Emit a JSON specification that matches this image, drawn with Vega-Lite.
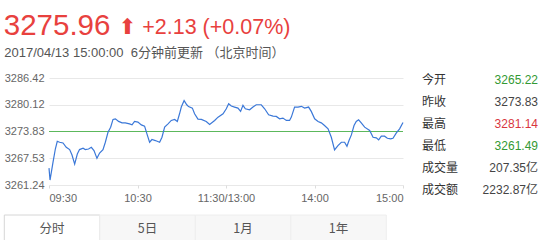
{
  "$schema": "https://vega.github.io/schema/vega-lite/v6.json",
  "padding": {"left": 3, "top": 11, "right": 0, "bottom": 0},
  "background": "white",
  "title": {"text": "3275.96", "fontSize": 29.5, "color": "#e8413e", "font": "Liberation Sans", "fontWeight": "normal", "anchor": "start", "offset": -25, "frame": "bounds"},
  "config": {"view": {"stroke": null}, "font": "Liberation Sans, Noto Sans CJK SC"},
  "spacing": 11,
  "vconcat": [
    {
      "title": {"text": "⬆ +2.13 (+0.07%)", "fontSize": 21.5, "color": "#e8413e", "font": "Liberation Sans, DejaVu Sans", "fontWeight": "normal", "anchor": "start", "dx": 114, "offset": 9, "frame": "bounds"},
      "spacing": 16,
      "hconcat": [
        {
          "title": {"text": "2017/04/13 15:00:00\u00a0\u00a06分钟前更新 （北京时间）", "fontSize": 13, "color": "#555555", "font": "Liberation Sans, Noto Sans CJK SC", "fontWeight": "normal", "anchor": "start", "offset": 12, "frame": "bounds"},
          "width": 354,
          "height": 107,
          "layer": [
            {
              "data": {"values": [{"prevClose": 3273.83}]},
              "mark": {"type": "rule", "color": "#5cb85c", "strokeWidth": 1},
              "encoding": {"y": {"field": "prevClose", "type": "quantitative", "title": null}}
            },
            {
              "data": {"values": [
                {"t": 0, "v": 3265.22}, {"t": 0.7, "v": 3262.4}, {"t": 2.7, "v": 3266.56}, {"t": 4.3, "v": 3269.71},
                {"t": 5.6, "v": 3271.53}, {"t": 7.2, "v": 3271.30}, {"t": 9.5, "v": 3271.13}, {"t": 11.7, "v": 3270.11},
                {"t": 14.0, "v": 3269.57}, {"t": 15.6, "v": 3268.29}, {"t": 17.4, "v": 3266.16}, {"t": 19.2, "v": 3268.53},
                {"t": 20.7, "v": 3269.57}, {"t": 23.1, "v": 3269.88}, {"t": 24.6, "v": 3269.57}, {"t": 26.8, "v": 3269.71},
                {"t": 28.7, "v": 3270.11}, {"t": 30.5, "v": 3269.33}, {"t": 32.5, "v": 3267.51}, {"t": 34.3, "v": 3268.77},
                {"t": 36.6, "v": 3269.57}, {"t": 38.2, "v": 3271.30}, {"t": 40.0, "v": 3273.66}, {"t": 41.8, "v": 3274.85},
                {"t": 43.4, "v": 3276.67}, {"t": 45.0, "v": 3276.81}, {"t": 47.2, "v": 3276.20}, {"t": 49.5, "v": 3275.87},
                {"t": 51.7, "v": 3275.87}, {"t": 54.6, "v": 3275.63}, {"t": 56.3, "v": 3275.39}, {"t": 58.0, "v": 3276.20},
                {"t": 60.3, "v": 3276.03}, {"t": 62.6, "v": 3275.39}, {"t": 64.8, "v": 3275.08}, {"t": 66.4, "v": 3273.26},
                {"t": 68.2, "v": 3271.30}, {"t": 69.8, "v": 3271.94}, {"t": 72.1, "v": 3271.70}, {"t": 75.0, "v": 3271.30},
                {"t": 76.6, "v": 3272.48}, {"t": 78.4, "v": 3274.85}, {"t": 80.7, "v": 3275.63}, {"t": 82.9, "v": 3276.43},
                {"t": 85.2, "v": 3276.67}, {"t": 87.0, "v": 3276.20}, {"t": 88.5, "v": 3278.00}, {"t": 89.7, "v": 3279.58},
                {"t": 91.6, "v": 3281.10}, {"t": 93.4, "v": 3280.12}, {"t": 94.6, "v": 3279.70}, {"t": 97.2, "v": 3279.34},
                {"t": 98.7, "v": 3278.00}, {"t": 101.0, "v": 3276.74}, {"t": 103.3, "v": 3276.67}, {"t": 106.6, "v": 3276.20},
                {"t": 108.9, "v": 3275.49}, {"t": 112.3, "v": 3276.43}, {"t": 114.6, "v": 3277.21}, {"t": 118.0, "v": 3278.00},
                {"t": 120.2, "v": 3279.18}, {"t": 121.8, "v": 3280.36}, {"t": 123.6, "v": 3279.82}, {"t": 125.8, "v": 3279.58},
                {"t": 128.1, "v": 3279.34}, {"t": 129.9, "v": 3278.56}, {"t": 131.5, "v": 3279.98}, {"t": 133.1, "v": 3279.18},
                {"t": 136.0, "v": 3278.94}, {"t": 138.3, "v": 3279.58}, {"t": 140.5, "v": 3280.12}, {"t": 143.9, "v": 3280.12},
                {"t": 146.2, "v": 3279.18}, {"t": 148.9, "v": 3277.76}, {"t": 151.9, "v": 3277.45}, {"t": 154.1, "v": 3277.38},
                {"t": 156.3, "v": 3276.81}, {"t": 158.6, "v": 3276.98}, {"t": 160.9, "v": 3276.43}, {"t": 163.1, "v": 3276.43},
                {"t": 164.3, "v": 3277.21}, {"t": 166.5, "v": 3279.58}, {"t": 168.8, "v": 3279.58}, {"t": 171.1, "v": 3279.75},
                {"t": 173.3, "v": 3279.34}, {"t": 176.0, "v": 3279.58}, {"t": 177.8, "v": 3278.56}, {"t": 180.1, "v": 3276.81},
                {"t": 182.4, "v": 3276.20}, {"t": 184.6, "v": 3275.87}, {"t": 186.8, "v": 3275.25}, {"t": 189.2, "v": 3274.45},
                {"t": 191.4, "v": 3272.48}, {"t": 193.6, "v": 3269.48}, {"t": 195.9, "v": 3270.52}, {"t": 198.2, "v": 3271.30},
                {"t": 200.4, "v": 3271.30}, {"t": 202.0, "v": 3270.35}, {"t": 203.4, "v": 3271.70}, {"t": 205.0, "v": 3273.03},
                {"t": 206.8, "v": 3275.25}, {"t": 208.3, "v": 3276.20}, {"t": 209.9, "v": 3276.58}, {"t": 211.7, "v": 3275.87},
                {"t": 214.0, "v": 3274.85}, {"t": 217.4, "v": 3274.07}, {"t": 219.7, "v": 3272.48}, {"t": 221.9, "v": 3272.32},
                {"t": 223.5, "v": 3271.84}, {"t": 225.3, "v": 3272.72}, {"t": 227.5, "v": 3272.72}, {"t": 229.4, "v": 3272.24},
                {"t": 231.6, "v": 3272.08}, {"t": 233.2, "v": 3272.24}, {"t": 235.5, "v": 3273.50}, {"t": 237.7, "v": 3274.45},
                {"t": 240.0, "v": 3275.96}
              ]},
              "mark": {"type": "line", "color": "#3b78d8", "strokeWidth": 1.2},
              "encoding": {
                "x": {"field": "t", "type": "quantitative", "title": null,
                  "scale": {"domain": [0, 240], "nice": false, "zero": false},
                  "axis": {"values": [0, 60, 120, 180, 240], "tickCount": 5, "grid": false, "domain": false, "ticks": true, "tickColor": "#dddddd", "tickSize": 3, "labelFlush": true, "labelPadding": 4, "labelFontSize": 11, "labelColor": "#666666", "labelFont": "Liberation Sans", "labelOverlap": false,
                    "labelExpr": "datum.value == 0 ? '09:30' : datum.value == 60 ? '10:30' : datum.value == 120 ? '11:30/13:00' : datum.value == 180 ? '14:00' : '15:00'"}},
                "y": {"field": "v", "type": "quantitative", "title": null,
                  "scale": {"domain": [3261.24, 3286.42], "nice": false, "zero": false},
                  "axis": {"values": [3261.24, 3267.53, 3273.83, 3280.12, 3286.42], "tickCount": 5, "format": ".2f", "grid": true,
                    "gridColor": {"condition": {"test": "datum.value == 3273.83", "value": "transparent"}, "value": "#e8e8e8"},
                    "domain": false, "ticks": false, "labelPadding": 5, "labelFontSize": 11, "labelColor": "#666666", "labelFont": "Liberation Sans", "labelOverlap": false, "minExtent": 44.7, "maxExtent": 44.7}}
              }
            }
          ]
        },
        {
          "width": 116,
          "height": 114,
          "data": {"values": [
            {"item": "今开", "val": "3265.22", "tone": "down"},
            {"item": "昨收", "val": "3273.83", "tone": "flat"},
            {"item": "最高", "val": "3281.14", "tone": "up"},
            {"item": "最低", "val": "3261.49", "tone": "down"},
            {"item": "成交量", "val": "207.35亿", "tone": "flat"},
            {"item": "成交额", "val": "2232.87亿", "tone": "flat"}
          ]},
          "encoding": {"y": {"field": "item", "type": "ordinal", "sort": null, "axis": null, "scale": {"type": "point", "padding": 0.09}}},
          "layer": [
            {
              "mark": {"type": "text", "align": "left", "baseline": "middle", "fontSize": 12, "color": "#333333", "font": "Noto Sans CJK SC"},
              "encoding": {"x": {"datum": 0, "type": "quantitative", "scale": {"domain": [0, 1]}, "axis": null}, "text": {"field": "item"}}
            },
            {
              "mark": {"type": "text", "align": "right", "baseline": "middle", "fontSize": 12, "font": "Liberation Sans, Noto Sans CJK SC"},
              "encoding": {
                "x": {"datum": 1, "type": "quantitative"},
                "text": {"field": "val"},
                "color": {"field": "tone", "type": "nominal", "scale": {"domain": ["up", "flat", "down"], "range": ["#d9363e", "#444444", "#339933"]}, "legend": null}
              }
            }
          ]
        }
      ]
    },
    {
      "width": 382,
      "height": 27,
      "data": {"values": [
        {"tab": "分时", "active": "yes"},
        {"tab": "5日", "active": "no"},
        {"tab": "1月", "active": "no"},
        {"tab": "1年", "active": "no"}
      ]},
      "encoding": {"x": {"field": "tab", "type": "nominal", "sort": null, "axis": null, "scale": {"paddingInner": 0, "paddingOuter": 0, "range": [-44.7, 337.3]}}},
      "layer": [
        {
          "mark": {"type": "rect"},
          "encoding": {
            "fill": {"field": "active", "type": "nominal", "scale": {"domain": ["yes", "no"], "range": ["#ffffff", "#f7f7f7"]}, "legend": null},
            "stroke": {"field": "active", "type": "nominal", "scale": {"domain": ["yes", "no"], "range": ["#d6d6d6", "#eeeeee"]}, "legend": null}
          }
        },
        {
          "mark": {"type": "text", "fontSize": 12.5, "color": "#555555", "font": "Noto Sans CJK SC"},
          "encoding": {"text": {"field": "tab"}}
        }
      ]
    }
  ]
}
